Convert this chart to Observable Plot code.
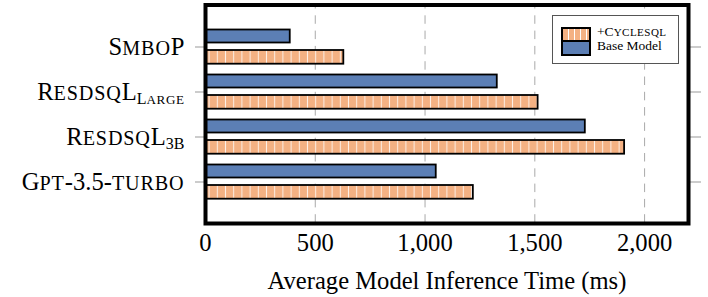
<!DOCTYPE html>
<html><head><meta charset="utf-8">
<script src="https://cdn.jsdelivr.net/npm/d3@7"></script>
<script src="https://cdn.jsdelivr.net/npm/@observablehq/plot@0.6"></script>
<style>
html,body{margin:0;padding:0;background:#fff;}
#chart{position:relative;width:708px;height:297px;font-family:'Liberation Serif','Times New Roman',serif;}
#chart svg{display:block;}
.legend{position:absolute;left:552px;top:15px;width:127px;height:49px;border:1px solid #555;box-sizing:border-box;background:#fff;}
.sw{position:absolute;left:8px;width:30px;box-sizing:border-box;border:2px solid #000;}
.lt{position:absolute;left:44px;font-size:13.5px;line-height:1;white-space:nowrap;color:#000;}
</style></head><body><div id="chart"></div>
<script>
const models = ["SmBoP", "RESDSQL-Large", "RESDSQL-3B", "GPT-3.5-turbo"];
const labelMain = ["SmboP", "ResdsqL", "ResdsqL", "Gpt-3.5-turbo"];
const labelSub = ["", "Large", "3B", ""];
const baseTimes = [386, 1329, 1730, 1051];
const cycleTimes = [630, 1515, 1909, 1220];
const seriesNames = ["+Cyclesql", "Base Model"];
const xTicks = [0, 500, 1000, 1500, 2000];
const xLabel = "Average Model Inference Time (ms)";
const baseColor = "#5C7FB5";
const cycleColor = "#F4B183";

const baseData = models.map((m, i) => ({model: m, value: baseTimes[i]}));
const cycleData = models.map((m, i) => ({model: m, value: cycleTimes[i]}));

const FS = 24.6;
const SC = 0.82;

const plot = Plot.plot({
  width: 708, height: 297,
  marginLeft: 205, marginRight: 20, marginTop: 4.5, marginBottom: 74,
  style: {fontFamily: "'Liberation Serif','Times New Roman',serif", fontSize: FS + "px", background: "white", color: "black", overflow: "visible"},
  x: {domain: [0, 2200]},
  y: {domain: models, paddingInner: 0.216, paddingOuter: 0.488},
  marks: [
    Plot.gridX(xTicks.filter(d => d > 0), {stroke: "#aaa", strokeOpacity: 1, strokeWidth: 1, strokeDasharray: "8.5,6.8", strokeDashoffset: 4.5}),
    Plot.barX(baseData, {x: "value", y: "model", fill: baseColor, stroke: "black", strokeWidth: 1.8, insetTop: 0.5, insetBottom: 21.5}),
    Plot.barX(cycleData, {x: "value", y: "model", fill: "url(#cyclePattern)", stroke: "black", strokeWidth: 1.8, insetTop: 21, insetBottom: 0.3}),
    Plot.axisX(xTicks, {tickSize: 0, tickPadding: 10, tickFormat: d3.format(","), label: xLabel, labelAnchor: "center", labelOffset: 65, labelArrow: "none", fontSize: FS}),
    Plot.axisY({anchor: "left", tickSize: 10, tickPadding: 11, stroke: "#999", label: null, tickFormat: d => d, fontSize: FS}),
    Plot.axisY({anchor: "right", tickSize: 12, stroke: "#999", label: null, tickFormat: () => ""}),
    Plot.frame({stroke: "black", strokeWidth: 4})
  ]
});

const svg = d3.select(plot);
const defs = svg.insert("defs", ":first-child");
const pat = defs.append("pattern").attr("id", "cyclePattern").attr("patternUnits", "userSpaceOnUse").attr("width", 8.2).attr("height", 10);
pat.append("rect").attr("width", 8.2).attr("height", 10).attr("fill", cycleColor);
pat.append("rect").attr("x", 3.6).attr("width", 1).attr("height", 10).attr("fill", "white").attr("fill-opacity", 0.8);

// split a string into runs: lowercase letters -> small caps
function runs(s) {
  const out = [];
  for (const ch of s) {
    const small = ch !== ch.toUpperCase();
    if (out.length && out[out.length - 1].small === small) out[out.length - 1].t += ch;
    else out.push({small, t: ch});
  }
  return out;
}
function addSC(el, s, size, first) {
  runs(s).forEach((r, k) => {
    const ts = el.append("tspan").style("font-size", (r.small ? size * SC : size) + "px").text(r.small ? r.t.toUpperCase() : r.t);
    if (r.small) ts.style("letter-spacing", (size * 0.035) + "px");
    if (k === 0 && first) first(ts);
  });
}

svg.selectAll("text").each(function() {
  const t = this.textContent;
  const i = models.indexOf(t);
  if (i < 0) return;
  const el = d3.select(this);
  el.text(null);
  addSC(el, labelMain[i], FS);
  if (labelSub[i]) addSC(el, labelSub[i], 16, ts => ts.attr("dy", 4));
});

const chart = document.getElementById("chart");
chart.appendChild(plot);

const legend = document.createElement("div");
legend.className = "legend";
const swCycle = document.createElement("div");
swCycle.className = "sw";
swCycle.style.top = "11px"; swCycle.style.height = "15px";
swCycle.style.background = `repeating-linear-gradient(90deg, ${cycleColor} 0 5px, rgba(255,255,255,0.8) 5px 6px)`;
const swBase = document.createElement("div");
swBase.className = "sw";
swBase.style.top = "24px"; swBase.style.height = "16px";
swBase.style.background = baseColor;
legend.appendChild(swCycle);
legend.appendChild(swBase);
const t1 = document.createElement("div");
t1.className = "lt"; t1.style.top = "9px";
runs(seriesNames[0]).forEach(r => {
  const sp = document.createElement("span");
  sp.style.fontSize = (r.small ? 13.5 * SC : 13.5) + "px";
  if (r.small) sp.style.letterSpacing = "0.45px";
  sp.textContent = r.small ? r.t.toUpperCase() : r.t;
  t1.appendChild(sp);
});
const t2 = document.createElement("div");
t2.className = "lt"; t2.style.top = "23px"; t2.textContent = seriesNames[1];
legend.appendChild(t1); legend.appendChild(t2);
chart.appendChild(legend);
</script>
</body></html>
